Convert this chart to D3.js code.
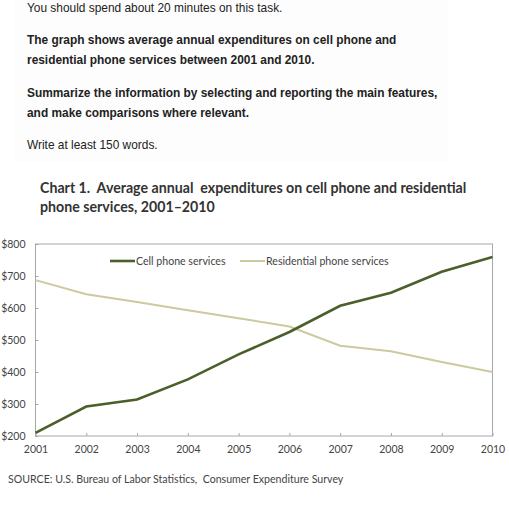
<!DOCTYPE html>
<html><head><meta charset="utf-8">
<script src="https://cdn.jsdelivr.net/npm/d3@7"></script>
<style>body{margin:0;background:#fff}svg{display:block}text{white-space:pre}</style>
</head><body><svg id="c" width="509" height="512"></svg>
<script>
const years = [2001,2002,2003,2004,2005,2006,2007,2008,2009,2010];
const cellPhone = [210,292,314,377,455,525,607,648,713,759];
const residential = [687,643,619,593,568,542,482,465,431,400];
const yTicks = [200,300,400,500,600,700,800];
const seriesNames = ["Cell phone services","Residential phone services"];
const colors = ["#4b5f2b","#cdc9a0"];

const svg = d3.select("#c");
svg.append("rect").attr("x",14).attr("y",0).attr("width",434).attr("height",162).attr("fill","#fdfdfd");

const prompt = [
  {t:"You should spend about 20 minutes on this task.", y:12, b:false},
  {t:"The graph shows average annual expenditures on cell phone and", y:44, b:true},
  {t:"residential phone services between 2001 and 2010.", y:64, b:true},
  {t:"Summarize the information by selecting and reporting the main features,", y:97, b:true},
  {t:"and make comparisons where relevant.", y:117, b:true},
  {t:"Write at least 150 words.", y:149, b:false}
];
svg.selectAll("text.p").data(prompt).join("text").attr("class","p")
  .attr("x",27).attr("y",d=>d.y).text(d=>d.t)
  .attr("font-family","Liberation Sans, Arial, sans-serif")
  .attr("font-size",11.9).attr("font-weight",d=>d.b?"bold":"normal").attr("fill","#222");

const title = ["Chart 1.  Average annual  expenditures on cell phone and residential","phone services, 2001\u20132010"];
svg.selectAll("text.t").data(title).join("text").attr("class","t")
  .attr("x",40).attr("y",(d,i)=>193+i*19).text(d=>d)
  .attr("font-family","Lato, Carlito, sans-serif").attr("font-weight","bold")
  .attr("font-size",14.2).attr("fill","#333");

const m = {l:35.5, r:492.5, t:244, b:436};
const x = d3.scaleLinear().domain([2001,2010]).range([m.l,m.r]);
const y = d3.scaleLinear().domain([200,800]).range([m.b,m.t]);

svg.append("rect").attr("x",m.l).attr("y",m.t).attr("width",m.r-m.l).attr("height",m.b-m.t)
  .attr("fill","none").attr("stroke","#a8a8a8").attr("stroke-width",1);

const xa = svg.append("g").attr("transform",`translate(0,${m.b})`)
  .call(d3.axisBottom(x).tickValues(years).tickFormat(d3.format("d")).tickSize(-3).tickPadding(10));
xa.select(".domain").remove();
xa.selectAll("line").attr("stroke","#a8a8a8");
xa.selectAll("text").attr("font-family","Lato, sans-serif").attr("font-size",10.5).attr("fill","#444");

const ya = svg.append("g").attr("transform",`translate(${m.l},0)`)
  .call(d3.axisLeft(y).tickValues(yTicks).tickFormat(d=>"$"+d).tickSize(-3).tickPadding(10));
ya.select(".domain").remove();
ya.selectAll("line").attr("stroke","#a8a8a8");
ya.selectAll("text").attr("font-family","Lato, sans-serif").attr("font-size",10.5).attr("fill","#444");

const line = d3.line().x((d,i)=>x(years[i])).y(d=>y(d));
[residential, cellPhone].forEach((s,k)=>{
  svg.append("path").datum(s).attr("d",line).attr("fill","none")
    .attr("stroke",colors[1-k]).attr("stroke-width",k===1?2.6:2);
});

const legX = [110,240];
seriesNames.forEach((n,i)=>{
  svg.append("line").attr("x1",legX[i]).attr("x2",legX[i]+25).attr("y1",261).attr("y2",261)
    .attr("stroke",colors[i]).attr("stroke-width",i===0?2.6:2);
  svg.append("text").attr("x",legX[i]+26).attr("y",264.5).text(n)
    .attr("font-family","Lato, sans-serif").attr("font-size",10.6).attr("fill","#444");
});

svg.append("text").attr("x",8).attr("y",483)
  .text("SOURCE: U.S. Bureau of Labor Statistics,  Consumer Expenditure Survey")
  .attr("font-family","Lato, sans-serif").attr("font-size",10.6).attr("fill","#444");
</script></body></html>
